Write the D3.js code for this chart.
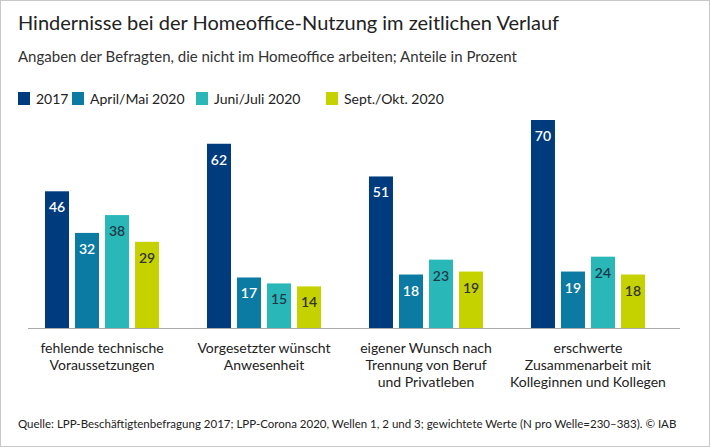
<!DOCTYPE html>
<html lang="de">
<head>
<meta charset="utf-8">
<script src="https://cdn.jsdelivr.net/npm/d3@7"></script>
<style>
  body { margin: 0; background: #fff; }
  text { font-family: Lato, "Noto Sans", sans-serif; }
</style>
</head>
<body>
<script>
// data
var categories = [
  ["fehlende technische", "Voraussetzungen"],
  ["Vorgesetzter wünscht", "Anwesenheit"],
  ["eigener Wunsch nach", "Trennung von Beruf", "und Privatleben"],
  ["erschwerte", "Zusammenarbeit mit", "Kolleginnen und Kollegen"]
];
var seriesNames = ["2017", "April/Mai 2020", "Juni/Juli 2020", "Sept./Okt. 2020"];
var v2017 = [46, 62, 51, 70];
var vAprMai = [32, 17, 18, 19];
var vJunJul = [38, 15, 23, 24];
var vSepOkt = [29, 14, 19, 18];
var colors = ["#003b7e", "#0c7ba3", "#2ab7b8", "#c6d200"];
var labelColors = ["#fff", "#fff", "#1d3a4a", "#333"];

var series = [v2017, vAprMai, vJunJul, vSepOkt];
var W = 710, H = 447;
var svg = d3.select("body").append("svg").attr("width", W).attr("height", H);

svg.append("rect").attr("x", 0.5).attr("y", 0.5).attr("width", W - 1).attr("height", H - 1)
  .attr("fill", "#fff").attr("stroke", "#c8c8c8");

svg.append("text").attr("x", 18).attr("y", 30).attr("font-size", 20).attr("fill", "#222")
  .text("Hindernisse bei der Homeoffice-Nutzung im zeitlichen Verlauf");
svg.append("text").attr("x", 18).attr("y", 62).attr("font-size", 15).attr("fill", "#333")
  .text("Angaben der Befragten, die nicht im Homeoffice arbeiten; Anteile in Prozent");

// legend
var lx = [18, 72, 196, 326];
seriesNames.forEach(function(n, i) {
  svg.append("rect").attr("x", lx[i]).attr("y", 92).attr("width", 12).attr("height", 13).attr("fill", colors[i]);
  svg.append("text").attr("x", lx[i] + 18).attr("y", 104).attr("font-size", 14).attr("fill", "#222").text(n);
});

var x0 = d3.scaleBand().domain(d3.range(4)).range([45, 645]).paddingInner(0.296).paddingOuter(0);
var x1 = d3.scaleBand().domain(d3.range(4)).range([0, x0.bandwidth()]).paddingInner(0.2);
var y = d3.scaleLinear().domain([0, 70]).range([328, 120]);

var g = svg.selectAll("g.grp").data(categories).enter().append("g")
  .attr("transform", function(d, i) { return "translate(" + x0(i) + ",0)"; });

g.each(function(c, ci) {
  var gg = d3.select(this);
  series.forEach(function(s, si) {
    gg.append("rect").attr("x", x1(si)).attr("y", y(s[ci])).attr("width", x1.bandwidth())
      .attr("height", y(0) - y(s[ci])).attr("fill", colors[si]);
    gg.append("text").attr("x", x1(si) + x1.bandwidth() / 2).attr("y", y(s[ci]) + 21)
      .attr("text-anchor", "middle").attr("font-size", 14).attr("font-weight", 600)
      .attr("fill", labelColors[si]).text(s[ci]);
  });
  c.forEach(function(line, li) {
    gg.append("text").attr("x", x0.bandwidth() / 2).attr("y", 353 + li * 17)
      .attr("text-anchor", "middle").attr("font-size", 14).attr("fill", "#222").text(line);
  });
});

svg.append("line").attr("x1", 28).attr("x2", 680).attr("y1", 328.5).attr("y2", 328.5)
  .attr("stroke", "#aaa");

svg.append("text").attr("x", 18).attr("y", 428).attr("font-size", 11.5).attr("fill", "#222")
  .text("Quelle: LPP-Beschäftigtenbefragung 2017; LPP-Corona 2020, Wellen 1, 2 und 3; gewichtete Werte (N pro Welle=230–383). © IAB");
</script>
</body>
</html>
